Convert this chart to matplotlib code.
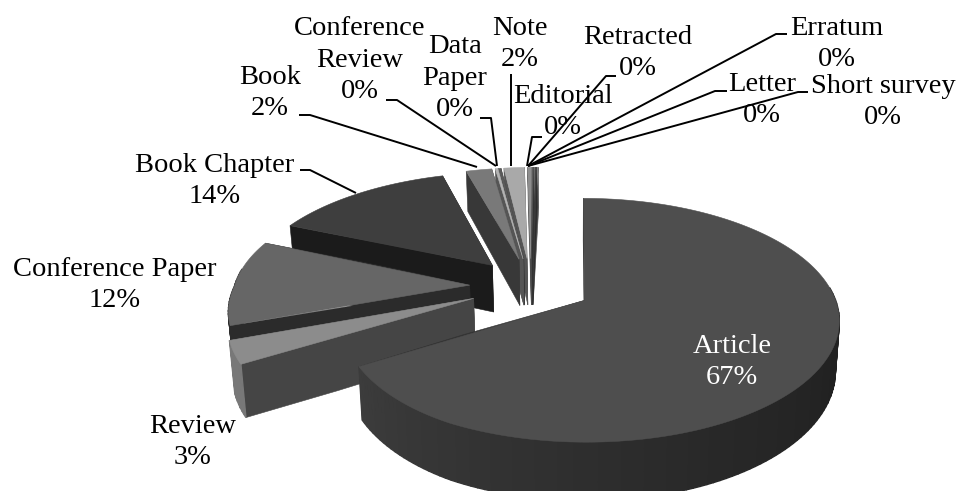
import numpy as np
import matplotlib
matplotlib.use('Agg')
import matplotlib.pyplot as plt

categories = ['Article', 'Review', 'Conference Paper', 'Book Chapter', 'Book',
              'Conference\nReview', 'Data\nPaper', 'Note', 'Editorial', 'Retracted',
              'Erratum', 'Letter', 'Short survey']
shares = [66.51, 3.09, 11.9, 13.9, 2.0, 0.2, 0.2, 1.6, 0.3, 0.1, 0.1, 0.1, 0.1]

top_colors = ['#4e4e4e', '#8c8c8c', '#666666', '#3e3e3e', '#797979', '#b4b4b4', '#5a5a5a',
              '#a9a9a9', '#8e8e8e', '#5c5c5c', '#6a6a6a', '#4a4a4a', '#808080']
side_colors = ['#333333', '#454545', '#2b2b2b', '#1b1b1b', '#383838', '#555555', '#333333',
               '#555555', '#4a4a4a', '#333333', '#3c3c3c', '#2c2c2c', '#4c4c4c']
rim_colors = ['#2c2c2c', '#787878', '#2b2b2b', '#1b1b1b', '#383838', '#777777', '#444444',
              '#777777', '#666666', '#444444', '#4c4c4c', '#3c3c3c', '#5c5c5c']

# label centre (x, y of the block), text colour
label_pos = [(732, 362, 'white'), (193, 442, 'black'), (115, 285, 'black'), (215, 181, 'black'),
             (270, 93, 'black'), (360, 60, 'black'), (455, 78, 'black'), (520, 44, 'black'),
             (563, 112, 'black'), (638, 53, 'black'), (837, 44, 'black'), (762, 100, 'black'),
             (883, 102, 'black')]
leaders = [None, None, None,
           [(300, 170), (310, 170), (356, 193)],
           [(299, 115), (310, 115), (477, 167)],
           [(386, 100), (397, 100), (496, 166)],
           [(480, 118), (491, 118), (497, 166)],
           [(511, 74), (511, 166)],
           [(542, 137), (532, 137), (527, 166)],
           [(616, 76), (606, 76), (528, 166)],
           [(787, 34), (776, 34), (528, 166)],
           [(727, 91), (715, 91), (528, 166)],
           [(808, 92), (798, 92), (528, 166)]]

# projection of the tilted pie
CX, CY, X0 = 531, 286, 575
A, B, K = 246, 114, 0.16
EXPLODE = 0.25
DEPTH = 48


def project(u, v, low=False):
    u, v = np.asarray(u), np.asarray(v)
    s = 1 / (1 - K * v)
    x = X0 + (CX - X0 + A * u) * s
    # the front left of the original is pulled in a little
    x = x + 11 * np.clip((v + 0.5) / 0.5, 0, 1) * np.clip((-u - 0.25) / 0.5, 0, 1)
    y = CY + B * v * s
    if low:
        x = X0 + (x - X0) * 0.985
        y = y + DEPTH * s
    return x, y


def wedge(a0, a1, n=None):
    n = n or max(2, int(abs(a1 - a0) / 1.5) + 2)
    t = np.radians(np.linspace(a0, a1, n))
    return np.sin(t), -np.cos(t)


def shade(col, f):
    c = np.array(matplotlib.colors.to_rgb(col)) * f
    return tuple(np.clip(c, 0, 1))


fig = plt.figure(figsize=(9.6, 4.91), dpi=100)
ax = fig.add_axes([0, 0, 1, 1])
ax.set_xlim(0, 960)
ax.set_ylim(491, 0)
ax.axis('off')


def face(xs, ys, col, z, lw=0.4):
    ax.fill(xs, ys, color=col, lw=lw, zorder=z)


total = sum(shares)
edges = np.concatenate([[0], np.cumsum(shares)]) / total * 360

# paint order: small back slices from the right, then the big ones towards the viewer
order = list(range(12, 3, -1)) + [3, 2, 1, 0]
for z, i in enumerate(order):
    a0, a1 = edges[i], edges[i + 1]
    mid = np.radians((a0 + a1) / 2)
    au, av = EXPLODE * np.sin(mid), -EXPLODE * np.cos(mid)
    zb = 10 + z * 3

    # radial faces
    for a in (a1, a0):
        ru, rv = wedge(a, a, 2)
        # several points along the edge because the projection is not quite straight
        us = np.linspace(au, au + ru[0], 12)
        vs = np.linspace(av, av + rv[0], 12)
        x1, y1 = project(us, vs)
        x2, y2 = project(us, vs, low=True)
        face(np.r_[x1, x2[::-1]], np.r_[y1, y2[::-1]], side_colors[i], zb)

    # outer rim, one strip per step so it can get darker to the right
    ru, rv = wedge(a0, a1)
    us, vs = au + ru, av + rv
    x1, y1 = project(us, vs)
    x2, y2 = project(us, vs, low=True)
    angles = np.linspace(a0, a1, len(us))
    for k in np.argsort(vs):
        if k == len(us) - 1 or rv[k] < -0.12:  # back of the rim is not seen
            continue
        col = rim_colors[i]
        if i == 0:
            # front is mid grey, right side nearly black
            f = np.interp(angles[k], [60, 110, 150, 180, 240], [0.68, 0.75, 0.9, 1.05, 1.38])
            col = shade(rim_colors[0], f)
        face([x1[k], x1[k + 1], x2[k + 1], x2[k]], [y1[k], y1[k + 1], y2[k + 1], y2[k]], col, zb + 1, lw=1.0)

    # top
    xt, yt = project(np.r_[au, us, au], np.r_[av, vs, av])
    face(xt, yt, top_colors[i], zb + 2)

for i, name in enumerate(categories):
    x, y, col = label_pos[i]
    ax.text(x, y, f"{name}\n{round(shares[i])}%", ha='center', va='center', color=col,
            fontsize=20.5, family='Liberation Serif', linespacing=1.36, zorder=90)
    if leaders[i]:
        lx, ly = zip(*leaders[i])
        ax.plot(lx, ly, color='black', lw=1.4, solid_capstyle='butt', zorder=80)

fig.savefig('out.png', dpi=100)
